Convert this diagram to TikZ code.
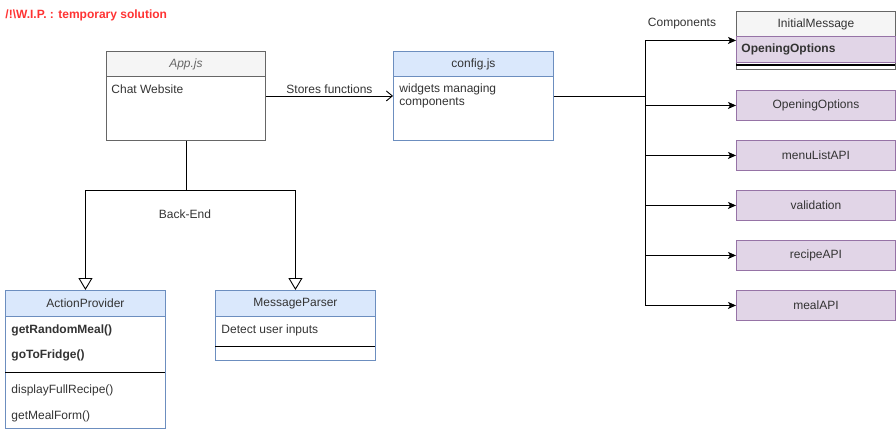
\documentclass[tikz,border=0pt]{standalone}
\usepackage{fontspec}
\setmainfont{Liberation Sans}
\usetikzlibrary{arrows.meta,positioning}

\definecolor{bluefill}{HTML}{DAE8FC}
\definecolor{bluedraw}{HTML}{6C8EBF}
\definecolor{grayfill}{HTML}{F5F5F5}
\definecolor{graydraw}{HTML}{666666}
\definecolor{purplefill}{HTML}{E1D5E7}
\definecolor{purpledraw}{HTML}{9673A6}
\definecolor{wipred}{HTML}{FF3333}
\definecolor{txt}{HTML}{333333}

\tikzset{
    classbox/.style={draw, anchor=north west, inner sep=0pt, minimum width=160pt,
        font=\fontsize{12}{14}\selectfont, text=txt},
    bluehead/.style={classbox, minimum height=26pt, fill=bluefill, draw=bluedraw},
    grayhead/.style={classbox, minimum height=25pt, fill=grayfill, draw=graydraw},
    compbox/.style={classbox, minimum height=30pt, fill=purplefill, draw=purpledraw},
    member/.style={anchor=west, inner sep=0pt, font=\fontsize{12}{14}\selectfont, text=txt},
    boldmember/.style={member, font=\fontsize{12}{14}\selectfont\bfseries},
    usesarrow/.style={-{Straight Barb[length=6pt,width=10pt]}},
    comparrow/.style={-{Stealth[length=8pt,width=7pt,inset=2pt]}},
    inherit/.style={-{Triangle[open,length=12pt,width=14pt]}},
}

\begin{document}
\begin{tikzpicture}[x=1pt, y=-1pt, line width=0.9pt]

    \useasboundingbox (0,0) rectangle (896,432);

    % Title
    \node[member, text=wipred, font=\fontsize{12}{14}\selectfont\bfseries] (wip) at (5,15) {/!\textbackslash W.I.P. : temporary solution};

    % App.js
    \node[classbox, draw=graydraw, minimum width=159pt, minimum height=89pt] (app) at (106,51) {};
    \node[grayhead, minimum width=159pt, text=graydraw, font=\fontsize{12}{14}\selectfont\itshape] (apphead) at (106,51) {App.js};
    \node[member] (appdesc) at (111,89) {Chat Website};

    % config.js
    \node[classbox, draw=bluedraw, minimum height=89pt] (cfg) at (393,51) {};
    \node[bluehead, minimum height=25pt] (cfghead) at (393,51) {config.js};
    \node[member] (cfgdesc1) at (399,89) {widgets managing};
    \node[member] (cfgdesc2) at (399,103) {components};

    \draw[usesarrow] (app.east) -- (cfg.west) node[midway, above=2pt, member, anchor=south] (stores) {Stores functions};

    % Components
    \node[classbox, draw=graydraw, minimum width=159pt, minimum height=58pt] (init) at (736,11) {};
    \node[grayhead, minimum width=159pt] (inithead) at (736,11) {InitialMessage};
    \node[classbox, minimum width=159pt, minimum height=26pt, fill=purplefill, draw=purpledraw] (initrow) at (736,36) {};
    \node[boldmember] (initopt) at (741,49) {OpeningOptions};
    \draw[black, line width=1.2pt] (736,65) -- (895,65);

    \node[compbox, minimum width=159pt] (opening) at (736,90) {OpeningOptions};
    \node[compbox, minimum width=159pt] (menulist) at (736,140) {menuListAPI};
    \node[compbox, minimum width=159pt] (valid) at (736,190) {validation};
    \node[compbox, minimum width=159pt] (recipe) at (736,240) {recipeAPI};
    \node[compbox, minimum width=159pt] (meal) at (736,290) {mealAPI};

    \coordinate (bustop) at (645,41);
    \coordinate (busbot) at (645,305);
    \draw (cfg.east) -- (cfg.east -| bustop);
    \draw (bustop) -- (busbot);
    \foreach \c in {init, opening, menulist, valid, recipe, meal} {
        \draw[comparrow] (bustop |- \c.west) -- (\c.west);
    }
    \node[member, anchor=center] (complabel) at (682,24) {Components};

    % ActionProvider
    \node[classbox, draw=bluedraw, minimum height=138pt] (action) at (5,290) {};
    \node[bluehead] (actionhead) at (5,290) {ActionProvider};
    \node[boldmember] (rnd) at (11,330) {getRandomMeal()};
    \node[boldmember] (fridge) at (11,355) {goToFridge()};
    \draw[black] (5,372) -- (165,372);
    \node[member] (recipefn) at (11,390) {displayFullRecipe()};
    \node[member] (mealfn) at (11,416) {getMealForm()};

    % MessageParser
    \node[classbox, draw=bluedraw, minimum height=70pt] (parser) at (215,290) {};
    \node[bluehead] (parserhead) at (215,290) {MessageParser};
    \node[member] (detect) at (221,330) {Detect user inputs};
    \draw[black] (215,346) -- (375,346);

    % Back-End
    \coordinate (split) at (app.south |- 0,190);
    \draw (app.south) -- (split);
    \draw[inherit] (split) -| (actionhead.north);
    \draw[inherit] (split) -| (parserhead.north);
    \node[member, anchor=center] (backend) at (185,214) {Back-End};

\end{tikzpicture}
\end{document}
